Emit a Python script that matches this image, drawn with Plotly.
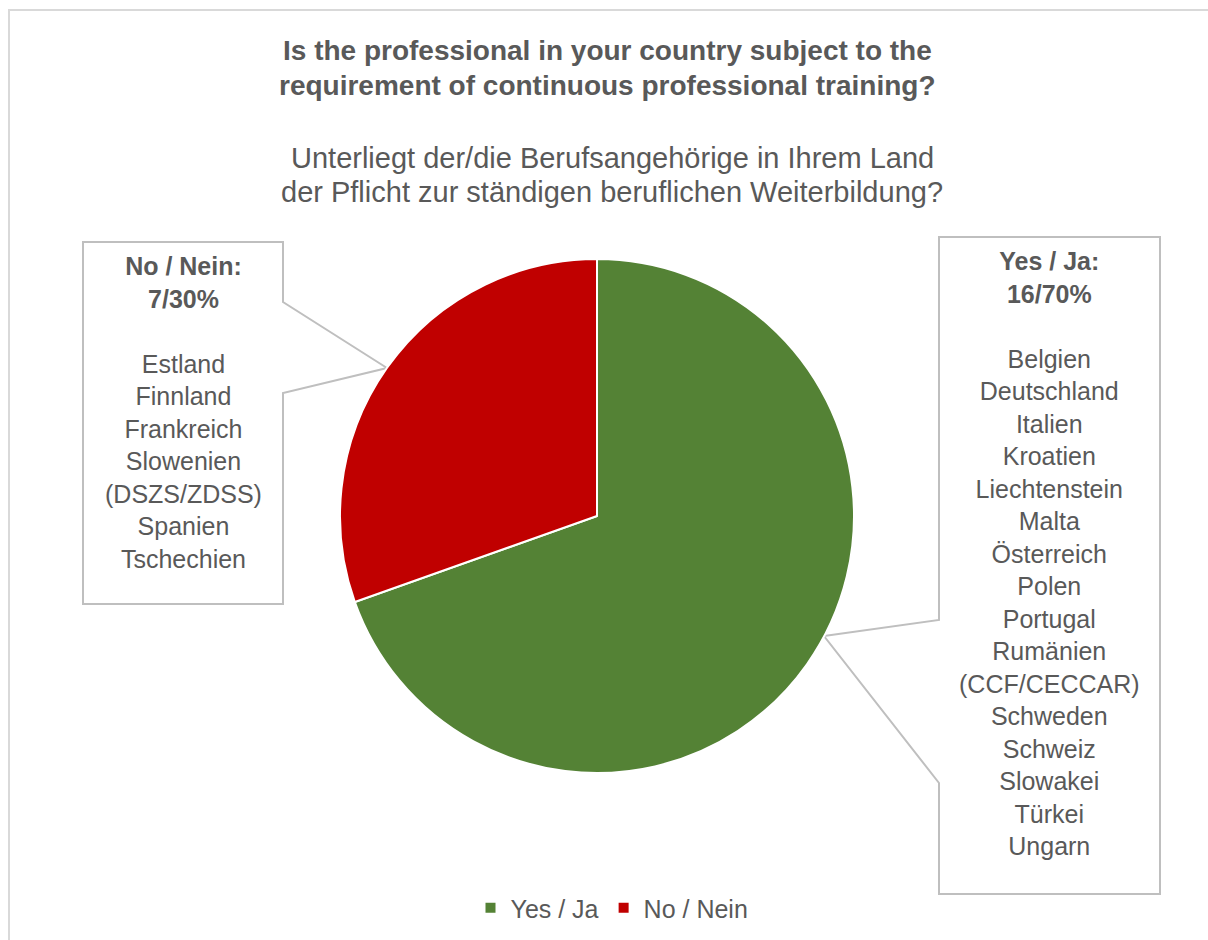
import plotly.graph_objects as go

W, H = 1208, 940

labels = ['Yes / Ja', 'No / Nein']
counts = [16, 7]
shares = ['70%', '30%']
colors = ['#548235', '#C00000']

yes_countries = ['Belgien', 'Deutschland', 'Italien', 'Kroatien', 'Liechtenstein', 'Malta',
                 'Österreich', 'Polen', 'Portugal', 'Rumänien', '(CCF/CECCAR)', 'Schweden',
                 'Schweiz', 'Slowakei', 'Türkei', 'Ungarn']
no_countries = ['Estland', 'Finnland', 'Frankreich', 'Slowenien', '(DSZS/ZDSS)', 'Spanien',
                'Tschechien']

title_lines = ['Is the professional in your country subject to the',
               'requirement of continuous professional training?']
subtitle_lines = ['Unterliegt der/die Berufsangehörige in Ihrem Land',
                  'der Pflicht zur ständigen beruflichen Weiterbildung?']

TXT = '#595959'
FONT = 'Liberation Sans, Arial, sans-serif'


def px(x, y):
    # pixel position -> paper coords
    return x / W, 1 - y / H


def callout_path(x0, y0, x1, y1, side, c0, tip, c1):
    # rectangular box with a pointer on the left or right side
    if side == 'right':
        pts = [(x0, y0), (x1, y0), (x1, c0), tip, (x1, c1), (x1, y1), (x0, y1)]
    else:
        pts = [(x0, y0), (x1, y0), (x1, y1), (x0, y1), (x0, c1), tip, (x0, c0)]
    p = []
    for i, (x, y) in enumerate(pts):
        a, b = px(x, y)
        p.append(('M' if i == 0 else 'L') + f'{a:.5f},{b:.5f}')
    return ' '.join(p) + ' Z'


fig = go.Figure()
fig.add_trace(go.Pie(
    labels=labels, values=counts, sort=False, direction='clockwise', rotation=0,
    marker=dict(colors=colors, line=dict(color='white', width=2)),
    textinfo='none', hoverinfo='label+value+percent',
    domain=dict(x=[340 / W, 854 / W], y=[1 - 773 / H, 1 - 259 / H]),
))

shapes = [
    # chart area border
    dict(type='rect', xref='paper', yref='paper', x0=9 / W, x1=1.05, y0=-0.05, y1=1 - 10 / H,
         line=dict(color='#D9D9D9', width=2), layer='below'),
    dict(type='path', xref='paper', yref='paper',
         path=callout_path(83, 242, 283, 604, 'right', 302, (387, 368), 393),
         line=dict(color='#BFBFBF', width=2), fillcolor='white', layer='below'),
    dict(type='path', xref='paper', yref='paper',
         path=callout_path(939, 237, 1160, 894, 'left', 620, (824, 636), 783),
         line=dict(color='#BFBFBF', width=2), fillcolor='white', layer='below'),
]

annotations = []
for txt, y in zip(title_lines, [50, 85]):
    annotations.append(dict(text=f'<b>{txt}</b>', x=607 / W, y=1 - y / H, xref='paper', yref='paper',
                            showarrow=False, xanchor='center', yanchor='middle',
                            font=dict(size=28, color=TXT, family=FONT)))
for txt, y in zip(subtitle_lines, [158, 192]):
    annotations.append(dict(text=txt, x=612 / W, y=1 - y / H, xref='paper', yref='paper',
                            showarrow=False, xanchor='center', yanchor='middle',
                            font=dict(size=29, color=TXT, family=FONT)))

no_text = f'<b>{labels[1]}:<br>{counts[1]}/{shares[1]}</b><br> <br>' + '<br>'.join(no_countries)
yes_text = f'<b>{labels[0]}:<br>{counts[0]}/{shares[0]}</b><br> <br>' + '<br>'.join(yes_countries)
annotations.append(dict(text=no_text, x=183 / W, y=1 - 412.5 / H, xref='paper', yref='paper',
                        showarrow=False, xanchor='center', yanchor='middle', align='center',
                        font=dict(size=25, color=TXT, family=FONT)))
annotations.append(dict(text=yes_text, x=1049.5 / W, y=1 - 553.5 / H, xref='paper', yref='paper',
                        showarrow=False, xanchor='center', yanchor='middle', align='center',
                        font=dict(size=25, color=TXT, family=FONT)))

fig.update_layout(
    width=W, height=H, margin=dict(l=0, r=0, t=0, b=0),
    paper_bgcolor='white', plot_bgcolor='white',
    font=dict(family=FONT, color=TXT),
    shapes=shapes, annotations=annotations,
    legend=dict(orientation='h', x=612 / W, xanchor='center', y=1 - 908 / H, yanchor='middle',
                font=dict(size=25, color=TXT, family=FONT), itemwidth=30),
    showlegend=True,
)

fig.write_html('out.html', config={'displayModeBar': False},
               post_script="document.body.style.margin = '0';")
